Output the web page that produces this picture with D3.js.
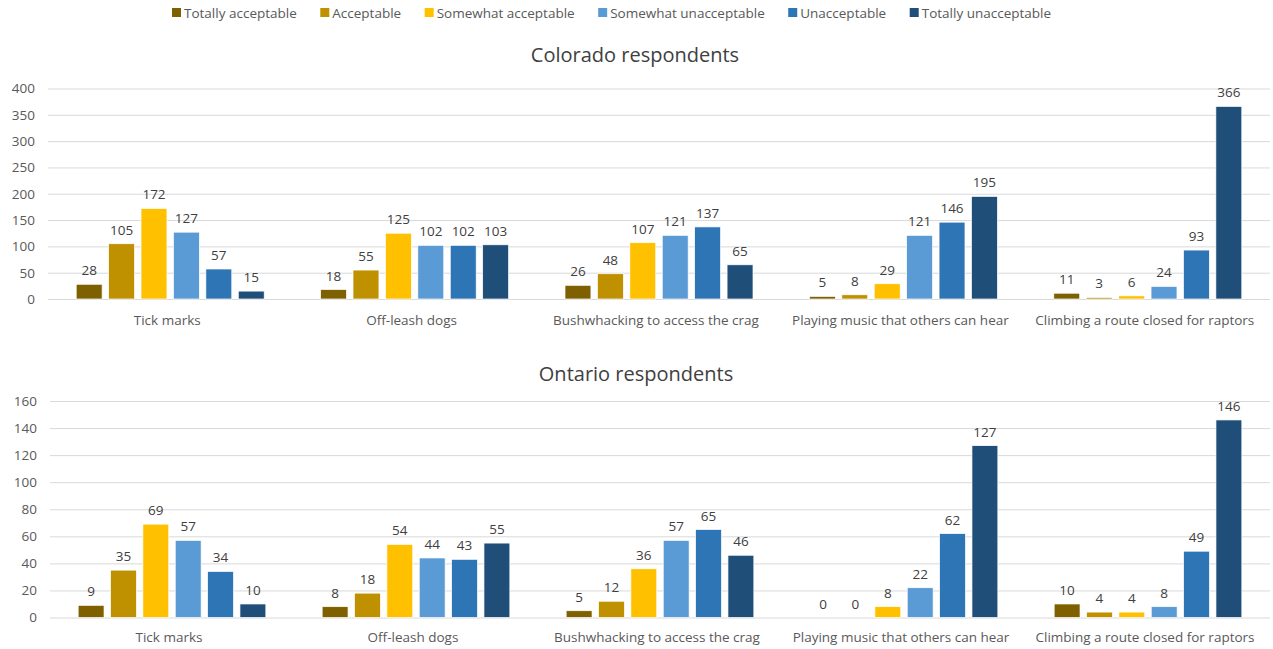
<!DOCTYPE html>
<html><head><meta charset="utf-8">
<script src="https://cdn.jsdelivr.net/npm/d3@7"></script>
<style>
body{margin:0;background:#fff;}
svg{display:block;font-family:"Open Sans","DejaVu Sans",sans-serif;}
</style></head>
<body>
<svg id="c" width="1273" height="649"></svg>
<script>
const categories = ["Tick marks","Off-leash dogs","Bushwhacking to access the crag","Playing music that others can hear","Climbing a route closed for raptors"];
const seriesNames = ["Totally acceptable","Acceptable","Somewhat acceptable","Somewhat unacceptable","Unacceptable","Totally unacceptable"];
const seriesColors = ["#7F6000","#BF9000","#FFC000","#5B9BD5","#2E75B6","#1F4E79"];
// values per category, in series order
const colorado = [
  [28,105,172,127,57,15],
  [18,55,125,102,102,103],
  [26,48,107,121,137,65],
  [5,8,29,121,146,195],
  [11,3,6,24,93,366]
];
const ontario = [
  [9,35,69,57,34,10],
  [8,18,54,44,43,55],
  [5,12,36,57,65,46],
  [0,0,8,22,62,127],
  [10,4,4,8,49,146]
];
const coloradoTicks = [0,50,100,150,200,250,300,350,400];
const ontarioTicks = [0,20,40,60,80,100,120,140,160];

const svg = d3.select("#c");

// legend
const lg = svg.append("g").attr("font-size",13.5);
let lx = 172;
seriesNames.forEach((n,i)=>{
  const g = lg.append("g").attr("transform",`translate(${lx},0)`);
  g.append("rect").attr("x",0).attr("y",8).attr("width",9).attr("height",9).attr("fill",seriesColors[i]);
  const t = g.append("text").attr("x",12).attr("y",18).attr("fill","#595959").text(n);
  const w = t.node().getComputedTextLength();
  lx += 12 + w + 23.5;
});

function panel(data, ticks, title, titleY, x0, x1, y0, y1, catY){
  const g = svg.append("g");
  const y = d3.scaleLinear().domain([ticks[0], ticks[ticks.length-1]]).range([y0,y1]);
  const x = d3.scaleBand().domain(categories).range([x0,x1]).paddingInner(0).paddingOuter(0);
  const xs = d3.scaleBand().domain(d3.range(seriesNames.length)).range([0,x.bandwidth()]).paddingInner(0.2).paddingOuter(0.87);
  g.append("text").attr("x",(x0+x1)/2 - 24).attr("y",titleY).attr("text-anchor","middle").attr("font-size",20).attr("fill","#404040").text(title);
  const ax = d3.axisLeft(y).tickValues(ticks).tickSize(-(x1-x0)).tickPadding(13);
  const ag = g.append("g").attr("transform",`translate(${x0},0)`).call(ax);
  ag.select(".domain").remove();
  ag.selectAll(".tick line").attr("stroke","#d9d9d9").attr("stroke-width",1);
  ag.selectAll(".tick text").attr("font-size",13.5).attr("fill","#595959").attr("font-family","'Open Sans',sans-serif");
  categories.forEach((c,ci)=>{
    const cg = g.append("g").attr("transform",`translate(${x(c)},0)`);
    data[ci].forEach((v,si)=>{
      cg.append("rect").attr("x",xs(si)).attr("width",xs.bandwidth()).attr("y",y(v)).attr("height",Math.max(0,y(0)-y(v)))
        .attr("fill",seriesColors[si]).attr("stroke","#fff").attr("stroke-width",0.7);
      cg.append("text").attr("x",xs(si)+xs.bandwidth()/2).attr("y",y(v)-9).attr("text-anchor","middle")
        .attr("font-size",13.5).attr("fill","#404040").text(v);
    });
    cg.append("text").attr("x",x.bandwidth()/2 - 3).attr("y",catY).attr("text-anchor","middle").attr("font-size",13.5).attr("fill","#595959").text(c);
  });
}
panel(colorado, coloradoTicks, "Colorado respondents", 62, 48, 1270, 299, 88.5, 325);
panel(ontario, ontarioTicks, "Ontario respondents", 381, 50, 1270, 617.5, 401, 642);
</script>
</body></html>
